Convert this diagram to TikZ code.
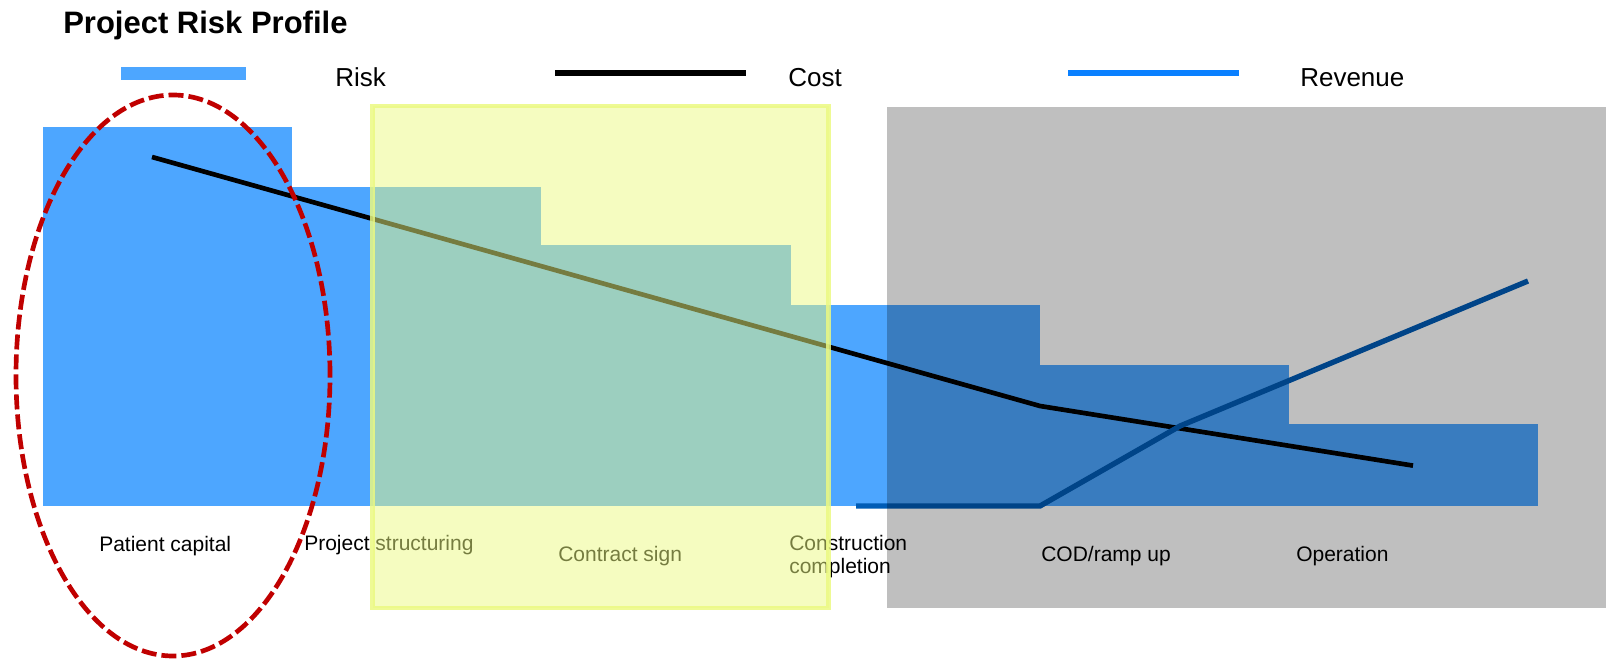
\documentclass[tikz,border=0pt]{standalone}
\usepackage{fontspec}
\setmainfont{Liberation Sans}
\usetikzlibrary{shapes.geometric}
\definecolor{riskblue}{RGB}{77,166,255}
\definecolor{revblue}{RGB}{10,128,255}
\definecolor{revdark}{RGB}{0,92,182}
\definecolor{phaseyellow}{RGB}{235,249,129}
\definecolor{ringred}{RGB}{192,0,0}

\begin{document}
\begin{tikzpicture}[x=0.75pt,y=-0.75pt,
  legtxt/.style={anchor=base west,inner sep=0pt,font=\fontsize{19.5}{22}\selectfont},
  phase/.style={anchor=base west,inner sep=0pt,align=left,font=\fontsize{15.75}{17.25}\selectfont},
  costline/.style={line width=3.5pt,black},
  revline/.style={line width=4pt,revdark},
  riskring/.style={ellipse,draw=ringred,line width=3.5pt,dash pattern=on 11.25pt off 3.75pt,minimum width=235.5pt,minimum height=420.75pt,inner sep=0pt}]
\useasboundingbox (0,0) rectangle (1612,659);
\node[anchor=base west,inner sep=0pt,font=\bfseries\fontsize{23.25}{28}\selectfont] (title) at (63,33.3) {Project Risk Profile};
\fill[riskblue] (121,67) rectangle (246,80);
\node[legtxt] (lrisk) at (335,87) {Risk};
\draw[line width=4.5pt,black] (555,73) -- (746,73);
\node[legtxt] (lcost) at (788,87) {Cost};
\draw[line width=4.5pt,revblue] (1068,73.3) -- (1239,73.3);
\node[legtxt] (lrev) at (1300,87) {Revenue};
\foreach \i/\t in %
{0/127.5,1/187,2/245,3/305,4/365,5/423.5} {
   \fill[riskblue] ({43+249.2*\i},\t) rectangle ({43+249.2*(\i+1)},506);
}
\coordinate (c0) at (152,157);
\coordinate (c1) at (1040,406);
\coordinate (c2) at (1413,465.6);
\draw[costline] (c0) -- (c1) -- (c2);
\coordinate (r0) at (856,506);
\coordinate (r1) at (1040,506);
\coordinate (r2) at (1180,426);
\coordinate (r3) at (1528,281);
\draw[revline] (r0) -- (r1) -- (r2) -- (r3);
\node[phase] (patient) at (99,551) {Patient capital};
\node[phase] (structuring) at (304,550) {Project structuring};
\node[phase] (contract) at (558,561) {Contract sign};
\node[phase] (construction) at (789,573) {Construction\\completion};
\node[phase] (cod) at (1041,561) {COD/ramp up};
\node[phase] (operation) at (1296,561) {Operation};
\node[riskring] (capring) at (173,375.5) {};
\draw[line width=3.4pt,draw=phaseyellow,draw opacity=0.85,fill=phaseyellow,fill opacity=0.5] (372.5,106) rectangle (828.5,608);
\fill[black,opacity=0.25] (887,107) rectangle (1606,608);
\end{tikzpicture}
\end{document}
